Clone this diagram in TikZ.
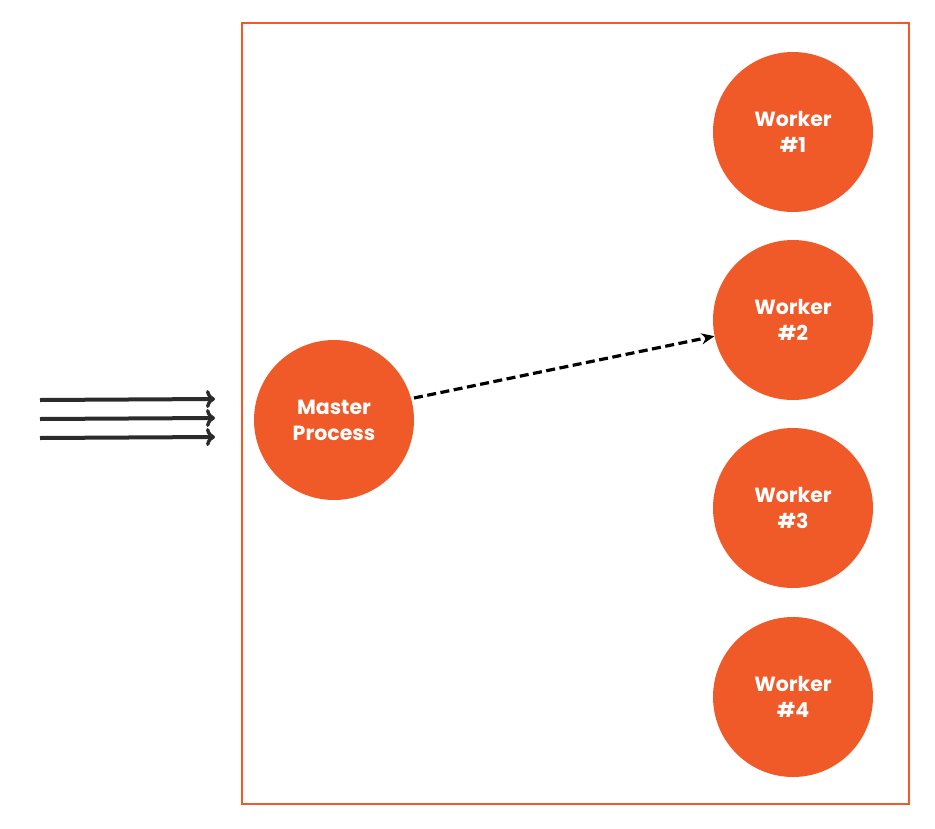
\documentclass[tikz,border=0pt]{standalone}
\usepackage{fontspec}
\setmainfont{Poppins}
\usetikzlibrary{arrows.meta}
\definecolor{orng}{HTML}{F05A28}
\definecolor{dgray}{HTML}{2B2B2B}
\begin{document}
\begin{tikzpicture}[x=1pt,y=-1pt,
  proc/.style={circle,fill=orng,minimum size=160pt,inner sep=0pt,text=white,font=\fontsize{20.5}{26}\selectfont\bfseries,align=center},
  inarrow/.style={draw=dgray,line width=4pt,-{To[length=9pt,width=18pt,line width=3.4pt]}},
  dasharrow/.style={draw=black,line width=3.2pt,dash pattern=on 9pt off 4.5pt,-{Stealth[length=13pt,width=11pt]}}]
\useasboundingbox (0,0) rectangle (935,828);
\node[draw=orng,line width=2.4pt,minimum width=667pt,minimum height=781pt,anchor=north west,inner sep=0pt] (box) at (241,22) {};
\node[proc] (master) at (334,420) {Master\\Process};
\node[proc] (w1) at (793,132) {Worker\\\#1};
\node[proc] (w2) at (793,320) {Worker\\\#2};
\node[proc] (w3) at (793,508) {Worker\\\#3};
\node[proc] (w4) at (793,697) {Worker\\\#4};
\coordinate (a1s) at (40,400); \coordinate (a1e) at (215,399);
\coordinate (a2s) at (40,419); \coordinate (a2e) at (215,418);
\coordinate (a3s) at (40,438); \coordinate (a3e) at (215,437);
\draw[inarrow] (a1s) -- (a1e);
\draw[inarrow] (a2s) -- (a2e);
\draw[inarrow] (a3s) -- (a3e);
\coordinate (ds) at (414,398);
\draw[dasharrow] (ds) -- (w2);
\end{tikzpicture}
\end{document}
